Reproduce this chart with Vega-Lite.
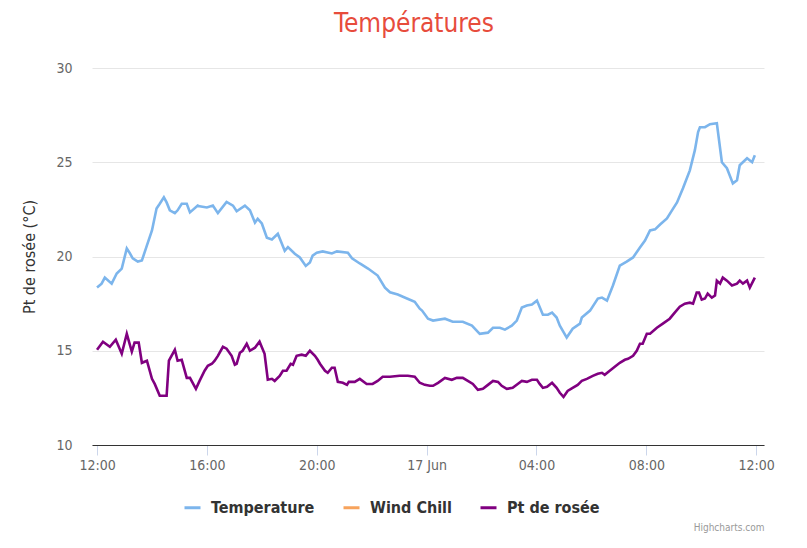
{
  "$schema": "https://vega.github.io/schema/vega-lite/v6.json",
  "width": 672,
  "height": 377,
  "autosize": {"type": "none"},
  "padding": {"left": 92, "top": 68, "right": 43, "bottom": 103},
  "background": "white",
  "config": {
    "font": "DejaVu Sans Condensed, Roboto, sans-serif",
    "view": {"stroke": null}
  },
  "title": {
    "text": "Températures",
    "color": "#e74c3c",
    "fontSize": 26,
    "fontWeight": "normal",
    "frame": "group",
    "anchor": "middle",
    "dx": -14,
    "offset": 24
  },
  "datasets": {
    "temp": [
      {"t":"2019-06-16T12:00","v":18.35},{"t":"2019-06-16T12:10","v":18.56},{"t":"2019-06-16T12:17","v":18.88},{"t":"2019-06-16T12:32","v":18.56},
      {"t":"2019-06-16T12:43","v":19.1},{"t":"2019-06-16T12:54","v":19.36},{"t":"2019-06-16T13:05","v":20.43},{"t":"2019-06-16T13:11","v":20.2},
      {"t":"2019-06-16T13:18","v":19.9},{"t":"2019-06-16T13:29","v":19.73},{"t":"2019-06-16T13:38","v":19.79},{"t":"2019-06-16T13:49","v":20.59},
      {"t":"2019-06-16T14:00","v":21.38},{"t":"2019-06-16T14:10","v":22.55},{"t":"2019-06-16T14:17","v":22.8},{"t":"2019-06-16T14:26","v":23.14},
      {"t":"2019-06-16T14:32","v":22.87},{"t":"2019-06-16T14:39","v":22.45},{"t":"2019-06-16T14:50","v":22.3},{"t":"2019-06-16T14:56","v":22.45},
      {"t":"2019-06-16T15:05","v":22.8},{"t":"2019-06-16T15:16","v":22.8},{"t":"2019-06-16T15:23","v":22.34},{"t":"2019-06-16T15:40","v":22.7},
      {"t":"2019-06-16T15:44","v":22.66},{"t":"2019-06-16T16:00","v":22.6},{"t":"2019-06-16T16:13","v":22.7},{"t":"2019-06-16T16:24","v":22.3},
      {"t":"2019-06-16T16:43","v":22.9},{"t":"2019-06-16T16:57","v":22.7},{"t":"2019-06-16T17:05","v":22.4},{"t":"2019-06-16T17:23","v":22.7},
      {"t":"2019-06-16T17:34","v":22.45},{"t":"2019-06-16T17:45","v":21.8},{"t":"2019-06-16T17:51","v":22.0},{"t":"2019-06-16T18:00","v":21.75},
      {"t":"2019-06-16T18:11","v":21.0},{"t":"2019-06-16T18:22","v":20.9},{"t":"2019-06-16T18:35","v":21.2},{"t":"2019-06-16T18:50","v":20.3},
      {"t":"2019-06-16T18:57","v":20.5},{"t":"2019-06-16T19:12","v":20.15},{"t":"2019-06-16T19:23","v":19.95},{"t":"2019-06-16T19:36","v":19.5},
      {"t":"2019-06-16T19:45","v":19.68},{"t":"2019-06-16T19:51","v":20.05},{"t":"2019-06-16T20:00","v":20.2},{"t":"2019-06-16T20:13","v":20.27},
      {"t":"2019-06-16T20:33","v":20.16},{"t":"2019-06-16T20:44","v":20.27},{"t":"2019-06-16T21:08","v":20.2},{"t":"2019-06-16T21:17","v":19.9},
      {"t":"2019-06-16T21:34","v":19.63},{"t":"2019-06-16T21:52","v":19.36},{"t":"2019-06-16T22:13","v":18.99},{"t":"2019-06-16T22:29","v":18.35},
      {"t":"2019-06-16T22:40","v":18.1},{"t":"2019-06-16T22:57","v":17.98},{"t":"2019-06-16T23:17","v":17.77},{"t":"2019-06-16T23:34","v":17.6},
      {"t":"2019-06-16T23:45","v":17.23},{"t":"2019-06-16T23:50","v":17.13},{"t":"2019-06-17T00:03","v":16.7},{"t":"2019-06-17T00:14","v":16.6},
      {"t":"2019-06-17T00:40","v":16.7},{"t":"2019-06-17T00:57","v":16.54},{"t":"2019-06-17T01:19","v":16.54},{"t":"2019-06-17T01:39","v":16.33},
      {"t":"2019-06-17T01:56","v":15.9},{"t":"2019-06-17T02:14","v":15.96},{"t":"2019-06-17T02:25","v":16.22},{"t":"2019-06-17T02:40","v":16.22},
      {"t":"2019-06-17T02:51","v":16.12},{"t":"2019-06-17T03:06","v":16.33},{"t":"2019-06-17T03:17","v":16.6},{"t":"2019-06-17T03:28","v":17.29},
      {"t":"2019-06-17T03:39","v":17.4},{"t":"2019-06-17T03:50","v":17.45},{"t":"2019-06-17T04:01","v":17.66},{"t":"2019-06-17T04:14","v":16.91},
      {"t":"2019-06-17T04:25","v":16.91},{"t":"2019-06-17T04:34","v":17.02},{"t":"2019-06-17T04:44","v":16.76},{"t":"2019-06-17T04:51","v":16.33},
      {"t":"2019-06-17T05:06","v":15.7},{"t":"2019-06-17T05:19","v":16.17},{"t":"2019-06-17T05:35","v":16.44},{"t":"2019-06-17T05:39","v":16.76},
      {"t":"2019-06-17T05:57","v":17.13},{"t":"2019-06-17T06:14","v":17.77},{"t":"2019-06-17T06:23","v":17.82},{"t":"2019-06-17T06:34","v":17.66},
      {"t":"2019-06-17T06:47","v":18.46},{"t":"2019-06-17T07:02","v":19.52},{"t":"2019-06-17T07:17","v":19.73},{"t":"2019-06-17T07:31","v":19.95},
      {"t":"2019-06-17T07:46","v":20.48},{"t":"2019-06-17T07:57","v":20.85},{"t":"2019-06-17T08:08","v":21.38},{"t":"2019-06-17T08:19","v":21.44},
      {"t":"2019-06-17T08:30","v":21.7},{"t":"2019-06-17T08:45","v":22.02},{"t":"2019-06-17T08:56","v":22.45},{"t":"2019-06-17T09:07","v":22.87},
      {"t":"2019-06-17T09:20","v":23.62},{"t":"2019-06-17T09:35","v":24.57},{"t":"2019-06-17T09:46","v":25.64},{"t":"2019-06-17T09:53","v":26.6},
      {"t":"2019-06-17T09:57","v":26.86},{"t":"2019-06-17T10:08","v":26.86},{"t":"2019-06-17T10:19","v":27.02},{"t":"2019-06-17T10:34","v":27.07},
      {"t":"2019-06-17T10:45","v":25.0},{"t":"2019-06-17T10:56","v":24.68},{"t":"2019-06-17T11:09","v":23.88},{"t":"2019-06-17T11:18","v":24.04},
      {"t":"2019-06-17T11:24","v":24.84},{"t":"2019-06-17T11:40","v":25.21},{"t":"2019-06-17T11:51","v":25.0},{"t":"2019-06-17T11:57","v":25.37}
    ],
    "dew": [
      {"t":"2019-06-16T12:00","v":15.05},{"t":"2019-06-16T12:13","v":15.48},{"t":"2019-06-16T12:28","v":15.21},{"t":"2019-06-16T12:41","v":15.59},
      {"t":"2019-06-16T12:54","v":14.84},{"t":"2019-06-16T13:05","v":15.9},{"t":"2019-06-16T13:16","v":14.95},{"t":"2019-06-16T13:22","v":15.43},
      {"t":"2019-06-16T13:31","v":15.43},{"t":"2019-06-16T13:38","v":14.36},{"t":"2019-06-16T13:49","v":14.47},{"t":"2019-06-16T14:00","v":13.51},
      {"t":"2019-06-16T14:06","v":13.24},{"t":"2019-06-16T14:17","v":12.61},{"t":"2019-06-16T14:32","v":12.61},{"t":"2019-06-16T14:37","v":14.47},
      {"t":"2019-06-16T14:50","v":15.05},{"t":"2019-06-16T14:56","v":14.47},{"t":"2019-06-16T15:05","v":14.52},{"t":"2019-06-16T15:16","v":13.56},
      {"t":"2019-06-16T15:23","v":13.56},{"t":"2019-06-16T15:36","v":12.98},{"t":"2019-06-16T15:44","v":13.4},{"t":"2019-06-16T15:55","v":13.94},
      {"t":"2019-06-16T16:02","v":14.2},{"t":"2019-06-16T16:11","v":14.31},{"t":"2019-06-16T16:17","v":14.47},{"t":"2019-06-16T16:24","v":14.73},
      {"t":"2019-06-16T16:35","v":15.21},{"t":"2019-06-16T16:43","v":15.11},{"t":"2019-06-16T16:54","v":14.73},{"t":"2019-06-16T17:01","v":14.26},
      {"t":"2019-06-16T17:05","v":14.31},{"t":"2019-06-16T17:12","v":14.89},{"t":"2019-06-16T17:18","v":15.0},{"t":"2019-06-16T17:27","v":15.37},
      {"t":"2019-06-16T17:34","v":15.0},{"t":"2019-06-16T17:45","v":15.16},{"t":"2019-06-16T17:55","v":15.48},{"t":"2019-06-16T18:06","v":14.84},
      {"t":"2019-06-16T18:13","v":13.46},{"t":"2019-06-16T18:22","v":13.51},{"t":"2019-06-16T18:28","v":13.4},{"t":"2019-06-16T18:39","v":13.67},
      {"t":"2019-06-16T18:46","v":13.94},{"t":"2019-06-16T18:54","v":13.94},{"t":"2019-06-16T19:03","v":14.31},{"t":"2019-06-16T19:08","v":14.26},
      {"t":"2019-06-16T19:16","v":14.73},{"t":"2019-06-16T19:27","v":14.79},{"t":"2019-06-16T19:36","v":14.73},{"t":"2019-06-16T19:45","v":15.0},
      {"t":"2019-06-16T19:56","v":14.73},{"t":"2019-06-16T20:02","v":14.52},{"t":"2019-06-16T20:07","v":14.31},{"t":"2019-06-16T20:18","v":13.94},
      {"t":"2019-06-16T20:24","v":13.83},{"t":"2019-06-16T20:33","v":14.1},{"t":"2019-06-16T20:39","v":14.1},{"t":"2019-06-16T20:46","v":13.35},
      {"t":"2019-06-16T20:57","v":13.3},{"t":"2019-06-16T21:06","v":13.19},{"t":"2019-06-16T21:10","v":13.35},{"t":"2019-06-16T21:23","v":13.35},
      {"t":"2019-06-16T21:34","v":13.51},{"t":"2019-06-16T21:49","v":13.24},{"t":"2019-06-16T22:02","v":13.24},{"t":"2019-06-16T22:13","v":13.4},
      {"t":"2019-06-16T22:24","v":13.62},{"t":"2019-06-16T22:40","v":13.62},{"t":"2019-06-16T23:01","v":13.67},{"t":"2019-06-16T23:19","v":13.67},
      {"t":"2019-06-16T23:34","v":13.62},{"t":"2019-06-16T23:45","v":13.3},{"t":"2019-06-16T23:56","v":13.19},{"t":"2019-06-17T00:07","v":13.14},
      {"t":"2019-06-17T00:14","v":13.14},{"t":"2019-06-17T00:25","v":13.3},{"t":"2019-06-17T00:40","v":13.56},{"t":"2019-06-17T00:55","v":13.46},
      {"t":"2019-06-17T01:06","v":13.56},{"t":"2019-06-17T01:19","v":13.56},{"t":"2019-06-17T01:30","v":13.4},{"t":"2019-06-17T01:41","v":13.24},
      {"t":"2019-06-17T01:52","v":12.93},{"t":"2019-06-17T02:03","v":12.98},{"t":"2019-06-17T02:14","v":13.19},{"t":"2019-06-17T02:25","v":13.4},
      {"t":"2019-06-17T02:36","v":13.35},{"t":"2019-06-17T02:44","v":13.14},{"t":"2019-06-17T02:55","v":12.98},{"t":"2019-06-17T03:08","v":13.03},
      {"t":"2019-06-17T03:19","v":13.24},{"t":"2019-06-17T03:28","v":13.4},{"t":"2019-06-17T03:39","v":13.35},{"t":"2019-06-17T03:50","v":13.46},
      {"t":"2019-06-17T04:01","v":13.46},{"t":"2019-06-17T04:07","v":13.24},{"t":"2019-06-17T04:14","v":13.03},{"t":"2019-06-17T04:23","v":13.09},
      {"t":"2019-06-17T04:34","v":13.3},{"t":"2019-06-17T04:44","v":13.03},{"t":"2019-06-17T04:51","v":12.77},{"t":"2019-06-17T04:59","v":12.55},
      {"t":"2019-06-17T05:08","v":12.87},{"t":"2019-06-17T05:19","v":13.03},{"t":"2019-06-17T05:30","v":13.19},{"t":"2019-06-17T05:39","v":13.4},
      {"t":"2019-06-17T05:50","v":13.51},{"t":"2019-06-17T06:03","v":13.67},{"t":"2019-06-17T06:14","v":13.78},{"t":"2019-06-17T06:23","v":13.83},
      {"t":"2019-06-17T06:29","v":13.72},{"t":"2019-06-17T06:40","v":13.94},{"t":"2019-06-17T06:51","v":14.15},{"t":"2019-06-17T07:02","v":14.36},
      {"t":"2019-06-17T07:13","v":14.52},{"t":"2019-06-17T07:20","v":14.57},{"t":"2019-06-17T07:31","v":14.73},{"t":"2019-06-17T07:39","v":15.0},
      {"t":"2019-06-17T07:46","v":15.37},{"t":"2019-06-17T07:52","v":15.37},{"t":"2019-06-17T08:01","v":15.9},{"t":"2019-06-17T08:08","v":15.9},
      {"t":"2019-06-17T08:23","v":16.22},{"t":"2019-06-17T08:36","v":16.44},{"t":"2019-06-17T08:51","v":16.7},{"t":"2019-06-17T09:02","v":17.02},
      {"t":"2019-06-17T09:13","v":17.34},{"t":"2019-06-17T09:24","v":17.5},{"t":"2019-06-17T09:35","v":17.55},{"t":"2019-06-17T09:42","v":17.5},
      {"t":"2019-06-17T09:50","v":18.09},{"t":"2019-06-17T09:55","v":18.09},{"t":"2019-06-17T10:01","v":17.71},{"t":"2019-06-17T10:08","v":17.77},
      {"t":"2019-06-17T10:14","v":18.03},{"t":"2019-06-17T10:23","v":17.82},{"t":"2019-06-17T10:30","v":17.93},{"t":"2019-06-17T10:34","v":18.72},
      {"t":"2019-06-17T10:41","v":18.56},{"t":"2019-06-17T10:47","v":18.88},{"t":"2019-06-17T10:56","v":18.72},{"t":"2019-06-17T11:07","v":18.46},
      {"t":"2019-06-17T11:18","v":18.56},{"t":"2019-06-17T11:24","v":18.72},{"t":"2019-06-17T11:31","v":18.56},{"t":"2019-06-17T11:40","v":18.72},
      {"t":"2019-06-17T11:46","v":18.35},{"t":"2019-06-17T11:57","v":18.88}
    ]
  },
  "encoding": {
    "x": {
      "field": "t",
      "type": "temporal",
      "scale": {
        "domain": [
          {"year": 2019, "month": 6, "date": 16, "hours": 11, "minutes": 49},
          {"year": 2019, "month": 6, "date": 17, "hours": 12, "minutes": 17}
        ]
      },
      "axis": {
        "title": "Highcharts.com",
        "titleAnchor": "end",
        "titleAlign": "right",
        "titleFontSize": 10,
        "titleFontWeight": "normal",
        "titleColor": "#999999",
        "titlePadding": 50,
        "values": [
          {"year": 2019, "month": 6, "date": 16, "hours": 12},
          {"year": 2019, "month": 6, "date": 16, "hours": 16},
          {"year": 2019, "month": 6, "date": 16, "hours": 20},
          {"year": 2019, "month": 6, "date": 17, "hours": 0},
          {"year": 2019, "month": 6, "date": 17, "hours": 4},
          {"year": 2019, "month": 6, "date": 17, "hours": 8},
          {"year": 2019, "month": 6, "date": 17, "hours": 12}
        ],
        "format": "%H:%M",
        "labelExpr": "datum.label == '00:00' ? '17 Jun' : datum.label",
        "grid": false,
        "domainColor": "#333333",
        "domainWidth": 1,
        "tickColor": "#ccd6eb",
        "tickSize": 10,
        "labelColor": "#666666",
        "labelFontSize": 14,
        "labelPadding": 3,
        "labelFlush": false
      }
    },
    "y": {
      "field": "v",
      "type": "quantitative",
      "scale": {"domain": [10, 30], "nice": false, "zero": false},
      "axis": {
        "title": "Pt de rosée (°C)",
        "titleColor": "#333333",
        "titleFontSize": 16,
        "titleFontWeight": "normal",
        "titlePadding": 18,
        "values": [10, 15, 20, 25, 30],
        "domain": false,
        "ticks": false,
        "gridColor": "#e6e6e6",
        "labelColor": "#666666",
        "labelFontSize": 14,
        "labelPadding": 20
      }
    },
    "color": {
      "field": "s",
      "type": "nominal",
      "scale": {
        "domain": ["Temperature", "Wind Chill", "Pt de rosée"],
        "range": ["#7cb5ec", "#f7a35c", "#800080"]
      },
      "legend": {
        "title": null,
        "orient": "none",
        "direction": "horizontal",
        "legendX": 91,
        "legendY": 430,
        "symbolType": "stroke",
        "symbolSize": 256,
        "symbolStrokeWidth": 3,
        "labelFontSize": 16,
        "labelFontWeight": "bold",
        "labelColor": "#333333",
        "labelOffset": 9,
        "columnPadding": 22
      }
    }
  },
  "layer": [
    {
      "data": {"name": "temp"},
      "transform": [{"calculate": "'Temperature'", "as": "s"}],
      "mark": {"type": "line", "strokeWidth": 2.6}
    },
    {
      "data": {"name": "dew"},
      "transform": [{"calculate": "'Pt de rosée'", "as": "s"}],
      "mark": {"type": "line", "strokeWidth": 2.6}
    }
  ]
}
